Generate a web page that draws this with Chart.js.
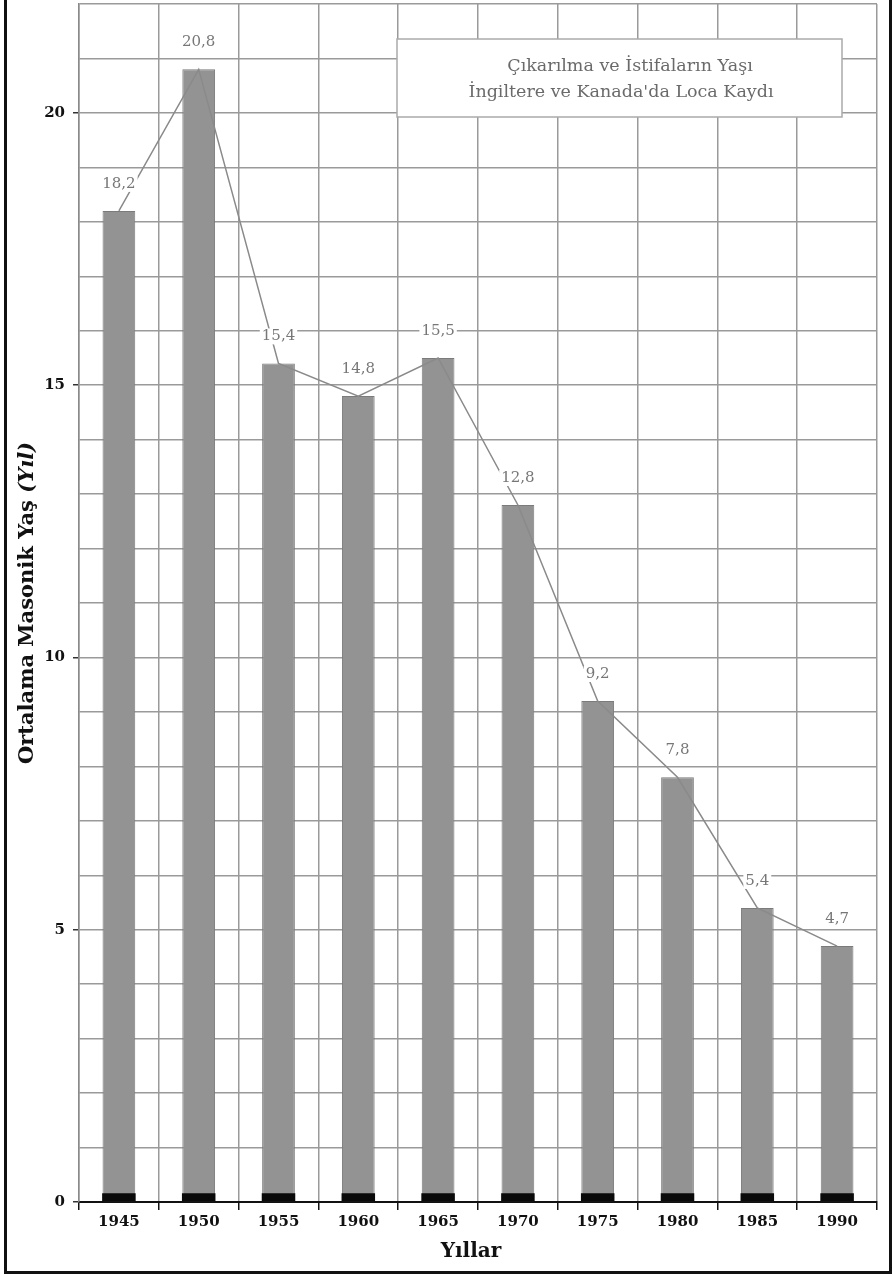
<!DOCTYPE html>
<html>
<head>
<meta charset="utf-8">
<script src="https://cdn.jsdelivr.net/npm/chart.js@4.4.0/dist/chart.umd.min.js"></script>
<style>
  body { margin: 0; background: #fff; }
  #wrap { position: relative; width: 893px; height: 1277px; }
  #frame {
    position: absolute; left: 4px; top: 0; width: 888px; height: 1274px;
    border: 3px solid #111; border-top: none; box-sizing: border-box; pointer-events: none;
  }
</style>
</head>
<body>
<div id="wrap">
  <canvas id="chart" width="893" height="1277"></canvas>
  <div id="frame"></div>
</div>
<script>
// data
const years = ["1945", "1950", "1955", "1960", "1965", "1970", "1975", "1980", "1985", "1990"];
const avgAge = [18.2, 20.8, 15.4, 14.8, 15.5, 12.8, 9.2, 7.8, 5.4, 4.7];
const baseBand = [0.16, 0.16, 0.16, 0.16, 0.16, 0.16, 0.16, 0.16, 0.16, 0.16];
const yLabels = [0, 5, 10, 15, 20];
const yMax = 22;
const legendLines = ["Çıkarılma ve İstifaların Yaşı", "İngiltere ve Kanada'da Loca Kaydı"];
const yTitleParts = ["Ortalama Masonik Yaş ", "(Yıl)"];
const xTitle = "Yıllar";

const SERIF = "'DejaVu Serif', 'Liberation Serif', serif";

const fmt = v => v.toFixed(1).replace(".", ",");

// drop the auto padding chart.js keeps for half-labels at the ends
const noPad = s => { s.paddingTop = 0; s.paddingBottom = 0; s.paddingLeft = 0; s.paddingRight = 0; };

const extras = {
  id: "extras",
  afterDraw(chart) {
    const ctx = chart.ctx;
    const area = chart.chartArea;

    // value labels over the bars
    const meta = chart.getDatasetMeta(2);
    ctx.save();
    ctx.font = "15px " + SERIF;
    ctx.textAlign = "center";
    ctx.textBaseline = "middle";
    meta.data.forEach((bar, i) => {
      const txt = fmt(avgAge[i]);
      const w = ctx.measureText(txt).width;
      const y = bar.y - 27;
      ctx.fillStyle = "#fff";
      ctx.fillRect(bar.x - w / 2 - 2, y - 8, w + 4, 16);
      ctx.fillStyle = "#777";
      ctx.fillText(txt, bar.x, y);
    });
    ctx.restore();

    // legend box
    ctx.save();
    ctx.fillStyle = "#fff";
    ctx.fillRect(397, 39, 445, 78);
    ctx.strokeStyle = "#aaa";
    ctx.lineWidth = 1.5;
    ctx.strokeRect(397, 39, 445, 78);
    ctx.fillStyle = "#6a6a6a";
    ctx.font = "17.5px " + SERIF;
    ctx.textAlign = "center";
    ctx.textBaseline = "middle";
    ctx.fillText(legendLines[0], 630, 66);
    ctx.fillText(legendLines[1], 621, 92);
    ctx.restore();

    // y axis title (bold + bold italic)
    ctx.save();
    ctx.translate(28, (area.top + area.bottom) / 2);
    ctx.rotate(-Math.PI / 2);
    ctx.fillStyle = "#111";
    ctx.textBaseline = "middle";
    ctx.textAlign = "left";
    const f1 = "bold 21px " + SERIF, f2 = "italic bold 21px " + SERIF;
    ctx.font = f1;
    const w1 = ctx.measureText(yTitleParts[0]).width;
    ctx.font = f2;
    const w2 = ctx.measureText(yTitleParts[1]).width;
    const x0 = -(w1 + w2) / 2;
    ctx.font = f1;
    ctx.fillText(yTitleParts[0], x0, 0);
    ctx.font = f2;
    ctx.fillText(yTitleParts[1], x0 + w1, 0);
    ctx.restore();

    // x axis title
    ctx.save();
    ctx.fillStyle = "#111";
    ctx.font = "bold 20px " + SERIF;
    ctx.textAlign = "center";
    ctx.textBaseline = "middle";
    ctx.fillText(xTitle, 471, 1252);
    ctx.restore();
  }
};

new Chart(document.getElementById("chart").getContext("2d"), {
  type: "bar",
  data: {
    labels: years,
    datasets: [
      {
        type: "line",
        data: avgAge,
        borderColor: "#8a8a8a",
        borderWidth: 1.5,
        pointRadius: 0,
        tension: 0,
        order: 0
      },
      {
        data: baseBand,
        backgroundColor: "#0a0a0a",
        borderWidth: 0,
        grouped: false,
        categoryPercentage: 1,
        barPercentage: 0.42,
        order: 1
      },
      {
        data: avgAge,
        backgroundColor: "#939393",
        borderColor: "#7b7b7b",
        borderWidth: 1,
        grouped: false,
        categoryPercentage: 1,
        barPercentage: 0.41,
        order: 2
      }
    ]
  },
  options: {
    responsive: false,
    animation: false,
    devicePixelRatio: 1,
    layout: { padding: { top: 4, right: 16, left: 0, bottom: 0 } },
    plugins: { legend: { display: false }, tooltip: { enabled: false } },
    scales: {
      x: {
        grid: { color: "#9a9a9a", lineWidth: 1.5, tickColor: "#111", tickLength: 8, offset: true },
        border: { color: "#111", width: 2 },
        ticks: { color: "#111", font: { family: SERIF, size: 15, weight: "bold" }, padding: 3 },
        afterFit: s => { s.height = 75; noPad(s); }
      },
      y: {
        min: 0,
        max: yMax,
        grid: {
          color: "#9a9a9a",
          lineWidth: 1.5,
          tickLength: 6,
          tickColor: c => (c.tick && yLabels.includes(c.tick.value)) ? "#333" : "rgba(0,0,0,0)"
        },
        border: { color: "#8a8a8a", width: 1.5 },
        ticks: {
          stepSize: 1,
          autoSkip: false,
          padding: 8,
          color: "#111",
          font: { family: SERIF, size: 15, weight: "bold" },
          callback: v => yLabels.includes(v) ? String(v) : ""
        },
        afterFit: s => { s.width = 79; noPad(s); }
      }
    }
  },
  plugins: [extras]
});
</script>
</body>
</html>
